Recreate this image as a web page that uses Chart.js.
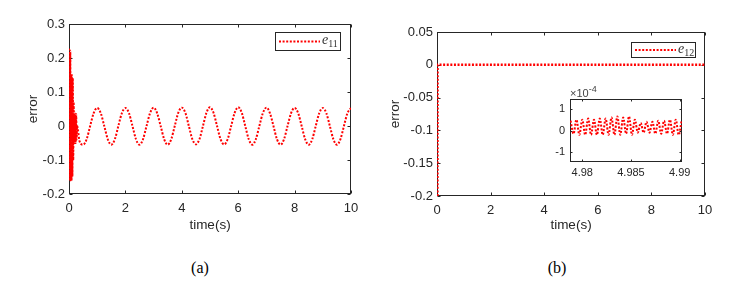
<!DOCTYPE html>
<html>
<head>
<meta charset="utf-8">
<script src="https://cdn.jsdelivr.net/npm/chart.js@4.4.1/dist/chart.umd.min.js"></script>
<style>
  body { margin: 0; background: #fff; width: 741px; height: 296px; position: relative; overflow: hidden; }
  canvas { position: absolute; }
  .cap { position: absolute; top: 259px; width: 60px; text-align: center; font: 16px "Liberation Serif", serif; color: #000; }
</style>
</head>
<body>
<canvas id="chartA" width="370" height="240" style="left:0;top:0"></canvas>
<canvas id="chartB" width="371" height="240" style="left:370px;top:0"></canvas>
<canvas id="chartInset" width="160" height="100" style="left:540px;top:85px"></canvas>
<div class="cap" style="left:170px">(a)</div>
<div class="cap" style="left:527px">(b)</div>
<script>
// (a) e11: fast start-up oscillation, then a steady ripple
const tTransient = [0, 0.015, 0.03, 0.045, 0.06, 0.075, 0.09, 0.105, 0.12, 0.135, 0.15,
  0.165, 0.18, 0.195, 0.21, 0.225, 0.24, 0.255, 0.27, 0.285];
const e11Transient = [0, 0.225, -0.16, 0.22, -0.16, 0.15, -0.16, 0.15, -0.15, 0.14, -0.1,
  0.07, -0.05, 0.04, -0.05, 0.035, -0.05, 0.035, -0.04, 0.0];
const tSteady = [0.375,
  0.5, 0.625, 0.75, 0.875, 1, 1.125, 1.25, 1.375,
  1.5, 1.625, 1.75, 1.875, 2, 2.125, 2.25, 2.375,
  2.5, 2.625, 2.75, 2.875, 3, 3.125, 3.25, 3.375,
  3.5, 3.625, 3.75, 3.875, 4, 4.125, 4.25, 4.375,
  4.5, 4.625, 4.75, 4.875, 5, 5.125, 5.25, 5.375,
  5.5, 5.625, 5.75, 5.875, 6, 6.125, 6.25, 6.375,
  6.5, 6.625, 6.75, 6.875, 7, 7.125, 7.25, 7.375,
  7.5, 7.625, 7.75, 7.875, 8, 8.125, 8.25, 8.375,
  8.5, 8.625, 8.75, 8.875, 9, 9.125, 9.25, 9.375,
  9.5, 9.625, 9.75, 9.875, 10];
const e11Steady = [-0.045,
  -0.055, -0.039, 0, 0.038, 0.053, 0.038, 0, -0.039,
  -0.055, -0.039, 0, 0.038, 0.053, 0.038, 0, -0.039,
  -0.055, -0.039, 0, 0.038, 0.054, 0.038, 0, -0.039,
  -0.055, -0.039, 0, 0.039, 0.054, 0.039, 0, -0.039,
  -0.054, -0.039, 0, 0.039, 0.055, 0.039, 0, -0.039,
  -0.054, -0.039, 0, 0.039, 0.055, 0.039, 0, -0.039,
  -0.055, -0.039, 0, 0.038, 0.054, 0.038, 0, -0.039,
  -0.055, -0.039, 0, 0.038, 0.053, 0.038, 0, -0.039,
  -0.055, -0.039, 0, 0.038, 0.053, 0.038, 0, -0.039,
  -0.055, -0.039, 0, 0.038, 0.053];

// (b) e12: jumps from -0.2 to zero and stays there
const tB = [0.015, 0.02, 10];
const e12 = [-0.2, 0, 0];

// (b) inset, e12 around t = 4.985 s, in units of 1e-4
const tInset = [4.9788, 4.9791, 4.9794, 4.9797, 4.9800, 4.9803, 4.9806, 4.9809, 4.9812, 4.9815,
  4.9818, 4.9821, 4.9824, 4.9827, 4.9830, 4.9833, 4.9836, 4.9839, 4.9842, 4.9845,
  4.9848, 4.9851, 4.9854, 4.9857, 4.9860, 4.9863, 4.9866, 4.9869, 4.9872, 4.9875,
  4.9878, 4.9881, 4.9884, 4.9887, 4.9890, 4.9893, 4.9896, 4.9899, 4.9902];
const e12Inset = [0.45, -0.15, 0.5, -0.2, 0.5, -0.2, 0.55, -0.2, 0.5, -0.2,
  0.55, -0.2, 0.55, -0.2, 0.6, -0.2, 0.65, -0.2, 0.6, -0.15,
  0.65, -0.2, 0.5, -0.1, 0.35, -0.1, 0.4, -0.1, 0.4, -0.15,
  0.45, -0.15, 0.45, -0.15, 0.5, -0.2, 0.5, -0.2, 0.45];

// tick labels
const timeTicks = [0, 2, 4, 6, 8, 10];
const errTicksA = [-0.2, -0.1, 0, 0.1, 0.2, 0.3];
const errTicksB = [-0.2, -0.15, -0.1, -0.05, 0, 0.05];
const insetTimeTicks = [4.98, 4.985, 4.99];
const insetErrTicks = [-1, 0, 1];

const ink = '#262626';
Chart.defaults.font.family = '"Liberation Sans", Arial, sans-serif';
Chart.defaults.color = ink;

const toXY = (xs, ys) => xs.map((x, i) => ({ x: x, y: ys[i] }));

// box round the plot area with MATLAB style inward ticks on all four sides
const framePlugin = {
  id: 'frame',
  beforeDatasetsDraw(chart, args, opts) {
    const { ctx, chartArea: a, scales: { x, y } } = chart;
    const len = opts.tickLength || 3;
    const L = Math.round(a.left) + 0.5, R = Math.round(a.right) - 0.5;
    const T = Math.round(a.top) + 0.5, B = Math.round(a.bottom) - 0.5;
    ctx.save();
    ctx.strokeStyle = ink;
    ctx.lineWidth = 1;
    ctx.strokeRect(L, T, R - L, B - T);
    ctx.beginPath();
    x.ticks.forEach(t => {
      const px = Math.round(x.getPixelForValue(t.value)) + 0.5;
      ctx.moveTo(px, B); ctx.lineTo(px, B - len);
      ctx.moveTo(px, T); ctx.lineTo(px, T + len);
    });
    y.ticks.forEach(t => {
      const py = Math.round(y.getPixelForValue(t.value)) + 0.5;
      ctx.moveTo(L, py); ctx.lineTo(L + len, py);
      ctx.moveTo(R, py); ctx.lineTo(R - len, py);
    });
    ctx.stroke();
    ctx.restore();
  }
};

// legend box inside the top right corner, label "e" with a subscript
const boxLegendPlugin = {
  id: 'boxLegend',
  afterDraw(chart, args, opts) {
    if (!opts.display) return;
    const { ctx, chartArea: a } = chart;
    const ds = chart.data.datasets[0];
    const x2 = a.right - opts.right, y1 = a.top + opts.top;
    const x1 = x2 - opts.width, y2 = y1 + opts.height;
    const cy = (y1 + y2) / 2;
    ctx.save();
    ctx.fillStyle = '#fff';
    ctx.fillRect(x1, y1, opts.width, opts.height);
    ctx.strokeStyle = ink;
    ctx.lineWidth = 1;
    ctx.strokeRect(Math.round(x1) + 0.5, Math.round(y1) + 0.5, opts.width, opts.height);
    ctx.strokeStyle = ds.borderColor;
    ctx.lineWidth = 2;
    ctx.setLineDash(ds.borderDash);
    ctx.beginPath();
    ctx.moveTo(x1 + 4, cy + 0.5);
    ctx.lineTo(x1 + 45, cy + 0.5);
    ctx.stroke();
    ctx.setLineDash([]);
    const [main, sub] = ds.label.split('_');
    ctx.fillStyle = '#333';
    ctx.textBaseline = 'alphabetic';
    ctx.font = 'italic 14px "Liberation Serif", serif';
    ctx.fillText(main, x1 + 47, cy + 3);
    const w = ctx.measureText(main).width;
    ctx.font = '10px "Liberation Serif", serif';
    ctx.fillText(sub, x1 + 47 + w, cy + 6);
    ctx.restore();
  }
};

// "x10^-4" multiplier over the inset
const exponentPlugin = {
  id: 'exponent',
  afterDraw(chart, args, opts) {
    if (!opts.text) return;
    const { ctx, chartArea: a } = chart;
    ctx.save();
    ctx.fillStyle = '#444';
    ctx.textBaseline = 'alphabetic';
    ctx.font = '11px "Liberation Sans", Arial, sans-serif';
    const base = '\u00d710';
    ctx.fillText(base, a.left, a.top - 2);
    const w = ctx.measureText(base).width;
    ctx.font = '9px "Liberation Sans", Arial, sans-serif';
    ctx.fillText(opts.text, a.left + w, a.top - 7);
    ctx.restore();
  }
};

function axis(min, max, ticks, o) {
  return {
    type: 'linear',
    min: min,
    max: max,
    grid: { display: false, drawTicks: false },
    border: { display: false },
    afterBuildTicks: s => { s.ticks = ticks.map(v => ({ value: v })); },
    afterFit: s => {
      if (o.width) s.width = o.width;
      if (o.height) s.height = o.height;
    },
    ticks: {
      color: ink,
      padding: o.pad,
      autoSkip: false,
      maxRotation: 0,
      font: { size: o.size },
      callback: v => String(+Number(v).toFixed(4))
    },
    title: o.title
      ? { display: true, text: o.title, color: ink, font: { size: 13.5 }, padding: o.titlePad }
      : { display: false }
  };
}

function lineSet(label, xs, ys, smooth, width) {
  return {
    label: label,
    data: toXY(xs, ys),
    borderColor: '#ff0000',
    borderWidth: width || 2,
    borderDash: [2, 1.6],
    pointRadius: 0,
    fill: false,
    cubicInterpolationMode: smooth ? 'monotone' : 'default',
    tension: 0
  };
}

const basePlugins = [framePlugin, boxLegendPlugin, exponentPlugin];

new Chart(document.getElementById('chartA'), {
  type: 'line',
  data: { datasets: [lineSet('e_11', tTransient.concat(tSteady), e11Transient.concat(e11Steady), true)] },
  options: {
    responsive: false,
    animation: false,
    devicePixelRatio: 1,
    layout: { padding: { top: 24, right: 19, left: 0, bottom: 0 } },
    scales: {
      x: axis(0, 10, timeTicks, { height: 46, pad: 7, size: 13, title: 'time(s)', titlePad: { top: 0, bottom: 7 } }),
      y: axis(-0.2, 0.3, errTicksA, { width: 69, pad: 4, size: 13, title: 'error', titlePad: { top: 25, bottom: 0 } })
    },
    plugins: {
      legend: { display: false },
      tooltip: { enabled: false },
      frame: { tickLength: 3 },
      boxLegend: { display: true, right: 11, top: 8, width: 65, height: 18 },
      exponent: {}
    }
  },
  plugins: basePlugins
});

new Chart(document.getElementById('chartB'), {
  type: 'line',
  data: { datasets: [lineSet('e_12', tB, e12, false, 2.5)] },
  options: {
    responsive: false,
    animation: false,
    devicePixelRatio: 1,
    layout: { padding: { top: 32, right: 36, left: 0, bottom: 0 } },
    scales: {
      x: axis(0, 10, timeTicks, { height: 44, pad: 7, size: 13, title: 'time(s)', titlePad: { top: 0, bottom: 7 } }),
      y: axis(-0.2, 0.05, errTicksB, { width: 67, pad: 4, size: 13, title: 'error', titlePad: { top: 17, bottom: 0 } })
    },
    plugins: {
      legend: { display: false },
      tooltip: { enabled: false },
      frame: { tickLength: 3 },
      boxLegend: { display: true, right: 10, top: 10, width: 64, height: 15 },
      exponent: {}
    }
  },
  plugins: basePlugins
});

new Chart(document.getElementById('chartInset'), {
  type: 'line',
  data: { datasets: [lineSet('e_12', tInset, e12Inset, true)] },
  options: {
    responsive: false,
    animation: false,
    devicePixelRatio: 1,
    layout: { padding: { top: 14, right: 18, left: 0, bottom: 0 } },
    scales: {
      x: axis(4.97874, 4.99024, insetTimeTicks, { height: 23, pad: 4, size: 11 }),
      y: axis(-1.45, 1.45, insetErrTicks, { width: 30, pad: 5, size: 11 })
    },
    plugins: {
      legend: { display: false },
      tooltip: { enabled: false },
      frame: { tickLength: 2 },
      boxLegend: { display: false },
      exponent: { text: '-4' }
    }
  },
  plugins: basePlugins
});
</script>
</body>
</html>
